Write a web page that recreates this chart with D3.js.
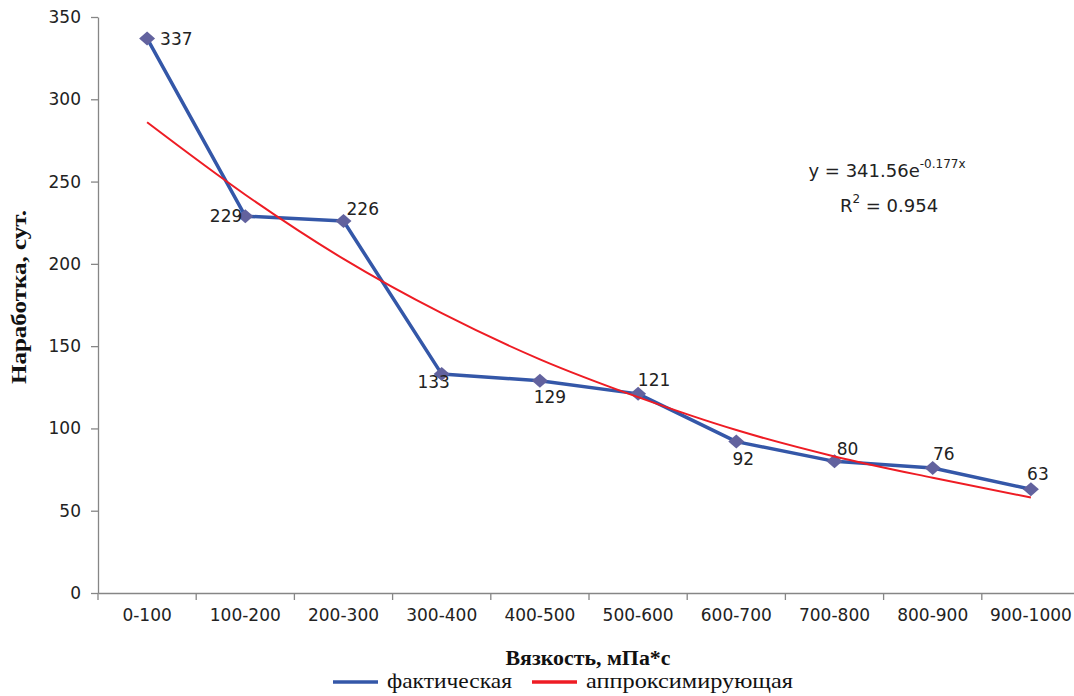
<!DOCTYPE html>
<meta charset="UTF-8">
<head>
  <style>
    body { margin: 0; background: #fff; }
    .tick text { font: 17px "DejaVu Sans", sans-serif; fill: #222; }
    .domain, .tick line { stroke: #868686; stroke-width: 1.3px; }
    .lbl { font: 17px "DejaVu Sans", sans-serif; fill: #222; }
    .title { font: bold 20px "Liberation Serif", serif; fill: #111; }
    .leg { font: 21px "Liberation Serif", serif; fill: #111; }
  </style>
</head>
<body>
  <script src="https://cdn.jsdelivr.net/npm/d3@7/dist/d3.min.js"></script>
  <script>
    // категории вязкости
    const categories = ["0-100", "100-200", "200-300", "300-400", "400-500",
      "500-600", "600-700", "700-800", "800-900", "900-1000"];
    // фактическая наработка
    const actual = [337, 229, 226, 133, 129, 121, 92, 80, 76, 63];
    // аппроксимирующая кривая
    const approx = [286, 242, 203, 170, 142, 119, 99, 83, 70, 58];
    const yTicks = [0, 50, 100, 150, 200, 250, 300, 350];

    // смещения подписей: [dx, dy, anchor]
    const labelPos = [[13, 0, "start"], [-3, 0, "end"], [3, -12, "start"], [-8, 8, "middle"],
      [10, 16, "middle"], [16, -14, "middle"], [7, 17, "middle"], [13, -12, "middle"],
      [11, -14, "middle"], [7, -15, "middle"]];

    const W = 1074, H = 696;
    const svg = d3.select("body").append("svg").attr("width", W).attr("height", H);

    const x = d3.scaleBand().domain(categories).range([98, 1080]).padding(0);
    const y = d3.scaleLinear().domain([0, 350]).range([593, 17]);

    // оси
    svg.append("g")
      .attr("transform", "translate(98,0)")
      .call(d3.axisLeft(y).tickValues(yTicks).tickSize(7).tickPadding(10).tickSizeOuter(0));

    const xAxis = svg.append("g")
      .attr("transform", "translate(0,593)")
      .call(d3.axisBottom(x).tickSize(0).tickPadding(22));
    xAxis.selectAll(".tick text").attr("dy", "0.35em");
    // деления между категориями
    xAxis.selectAll(".sep")
      .data(categories)
      .enter().append("line")
      .attr("class", "sep")
      .attr("x1", d => x(d)).attr("x2", d => x(d))
      .attr("y1", 0).attr("y2", 7)
      .attr("stroke", "#868686").attr("stroke-width", 1.3);

    const cx = d => x(d) + x.bandwidth() / 2;

    // фактическая
    const line = d3.line().x((d, i) => cx(categories[i])).y(d => y(d));
    svg.append("path")
      .datum(actual)
      .attr("fill", "none")
      .attr("stroke", "#3457a8")
      .attr("stroke-width", 3.5)
      .attr("stroke-linejoin", "round")
      .attr("d", line);

    svg.selectAll(".mk")
      .data(actual)
      .enter().append("path")
      .attr("class", "mk")
      .attr("d", "M0,-7L8,0L0,7L-8,0Z")
      .attr("fill", "#62629e")
      .attr("transform", (d, i) => `translate(${cx(categories[i])},${y(d)})`);

    // аппроксимирующая
    svg.append("path")
      .datum(approx)
      .attr("fill", "none")
      .attr("stroke", "#ee1c24")
      .attr("stroke-width", 2)
      .attr("d", line.curve(d3.curveMonotoneX));

    // подписи данных
    svg.selectAll(".lbl")
      .data(actual)
      .enter().append("text")
      .attr("class", "lbl")
      .attr("x", (d, i) => cx(categories[i]) + labelPos[i][0])
      .attr("y", (d, i) => y(d) + labelPos[i][1])
      .attr("dy", "0.36em")
      .attr("text-anchor", (d, i) => labelPos[i][2])
      .text(d => d);

    // уравнение
    const eq = svg.append("text").attr("class", "lbl").attr("x", 887).attr("y", 177)
      .attr("text-anchor", "middle").style("font-size", "18px");
    eq.append("tspan").text("y = 341.56e");
    eq.append("tspan").attr("dy", -9).style("font-size", "12px").text("-0.177x");
    const r2 = svg.append("text").attr("class", "lbl").attr("x", 889).attr("y", 212)
      .attr("text-anchor", "middle").style("font-size", "18px");
    r2.append("tspan").text("R");
    r2.append("tspan").attr("dy", -9).style("font-size", "12px").text("2");
    r2.append("tspan").attr("dy", 9).text(" = 0.954");

    // заголовки осей
    svg.append("text").attr("class", "title")
      .attr("transform", "translate(26,297) rotate(-90)")
      .attr("text-anchor", "middle")
      .attr("textLength", 174).attr("lengthAdjust", "spacingAndGlyphs")
      .text("Наработка, сут.");
    svg.append("text").attr("class", "title")
      .attr("x", 588).attr("y", 665)
      .attr("text-anchor", "middle")
      .attr("textLength", 165).attr("lengthAdjust", "spacingAndGlyphs")
      .text("Вязкость, мПа*с");

    // легенда
    const legend = [["фактическая", "#3457a8", 333, 125], ["аппроксимирующая", "#ee1c24", 532, 207]];
    legend.forEach(([name, color, lx, len]) => {
      svg.append("line").attr("x1", lx).attr("x2", lx + 45).attr("y1", 682).attr("y2", 682)
        .attr("stroke", color).attr("stroke-width", 3.5);
      svg.append("text").attr("class", "leg").attr("x", lx + 54).attr("y", 688)
        .attr("textLength", len).attr("lengthAdjust", "spacingAndGlyphs")
        .text(name);
    });
  </script>
</body>
